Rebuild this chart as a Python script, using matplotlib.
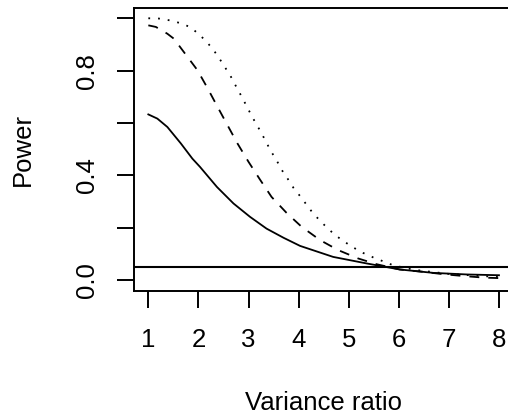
import matplotlib
matplotlib.use("Agg")
import matplotlib.pyplot as plt

plt.rcParams["font.family"] = ["Liberation Sans", "DejaVu Sans"]

# values
ratio_solid = [1.0, 1.18, 1.38, 1.65, 1.88, 2.03, 2.37, 2.70, 3.03, 3.36, 3.70, 4.03, 4.69, 5.36, 6.02, 6.69, 7.36, 8.0]
power_solid = [0.633, 0.617, 0.585, 0.522, 0.464, 0.433, 0.356, 0.293, 0.242, 0.197, 0.162, 0.131, 0.089, 0.064, 0.041, 0.028, 0.022, 0.019]

ratio_dashed = [1.0, 1.15, 1.38, 1.51, 1.71, 1.98, 2.18, 2.37, 2.58, 2.78, 3.0, 3.23, 3.46, 3.76, 4.06,
                4.43, 4.79, 5.19, 5.56, 6.02, 6.49, 6.89, 7.29, 7.69, 8.0]
power_dashed = [0.973, 0.967, 0.941, 0.922, 0.871, 0.802, 0.734, 0.666, 0.592, 0.522, 0.452, 0.384, 0.318, 0.257, 0.204,
                0.153, 0.115, 0.083, 0.061, 0.041, 0.032, 0.023, 0.016, 0.010, 0.008]

ratio_dotted = [1.0, 1.21, 1.43, 1.63, 1.83, 2.0, 2.15, 2.29, 2.41, 2.52, 2.64, 2.74, 2.84, 2.94, 3.04, 3.14,
                3.25, 3.35, 3.45, 3.56, 3.66, 3.78, 3.90, 4.03, 4.16, 4.29, 4.44, 4.59, 4.76, 4.93, 5.11,
                5.29, 5.49, 5.69, 5.89, 6.3, 7.0, 8.0]
power_dotted = [1.0, 0.999, 0.992, 0.982, 0.967, 0.941, 0.913, 0.882, 0.849, 0.816, 0.780, 0.744, 0.709, 0.673, 0.636, 0.601,
                0.565, 0.528, 0.492, 0.458, 0.422, 0.388, 0.352, 0.321, 0.288, 0.255, 0.225, 0.196, 0.168, 0.145, 0.123,
                0.104, 0.087, 0.072, 0.057, 0.040, 0.024, 0.012]

alpha_level = 0.05
x_ticks = [1, 2, 3, 4, 5, 6, 7, 8]
y_ticks = [0.0, 0.2, 0.4, 0.6, 0.8, 1.0]
y_ticklabels = ["0.0", "", "0.4", "", "0.8", ""]

fig = plt.figure(figsize=(5.08, 4.19), dpi=100)
# plot region runs past the right edge of the picture, as in the reference
ax = fig.add_axes([134.3 / 508, 128.3 / 419, 378.7 / 508, 282.9 / 419])

lw = 1.3
ax.plot(ratio_solid, power_solid, color="black", lw=lw)
ax.plot(ratio_dashed, power_dashed, color="black", lw=lw, dashes=(5.5, 5.0), dash_capstyle="butt")
ax.plot(ratio_dotted, power_dotted, color="black", lw=lw, dashes=(1.0, 4.4), dash_capstyle="butt")
ax.axhline(alpha_level, color="black", lw=1.5)

ax.set_xlim(0.72, 8.28)
ax.set_ylim(-0.04, 1.04)

ax.spines["right"].set_visible(False)
for s in ("left", "top", "bottom"):
    ax.spines[s].set_linewidth(1.4)

ax.set_xticks(x_ticks)
ax.set_xticklabels([str(v) for v in x_ticks])
ax.set_yticks(y_ticks)
ax.set_yticklabels(y_ticklabels, rotation=90, va="center")
ax.tick_params(axis="both", length=12.2, width=1.4, labelsize=18.5)
ax.tick_params(axis="x", pad=15)
ax.tick_params(axis="y", pad=13)

ax.set_xlabel("Variance ratio", fontsize=18.5)
ax.xaxis.label.set_va("center")
ax.xaxis.set_label_coords(0.5, -0.397)
ax.set_ylabel("Power", fontsize=18.5)
ax.yaxis.label.set_va("center")
ax.yaxis.set_label_coords(-0.294, 0.5)

fig.savefig("out.png", dpi=100)
